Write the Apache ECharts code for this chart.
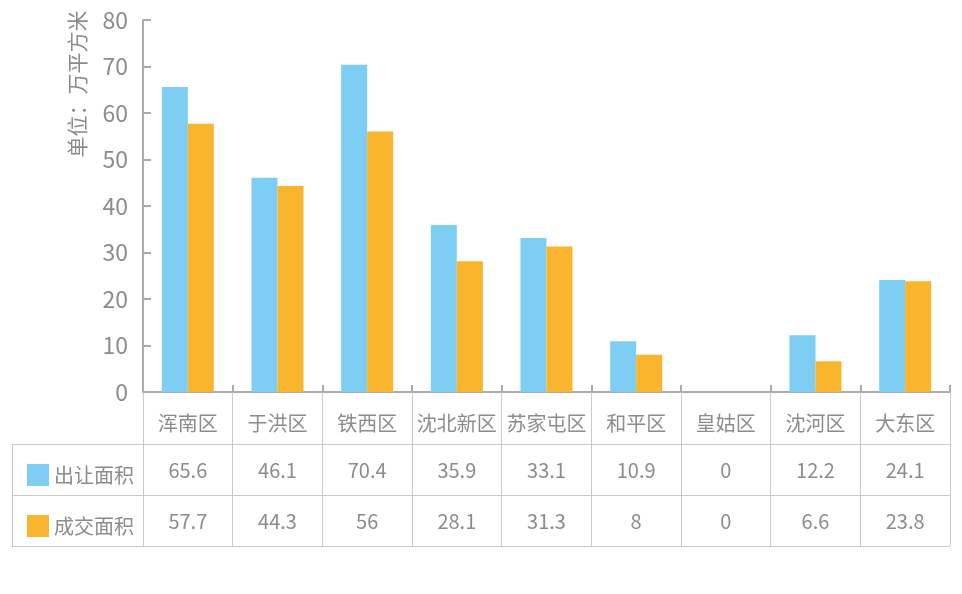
<!DOCTYPE html>
<html><head><meta charset="utf-8">
<script src="https://cdn.jsdelivr.net/npm/echarts@6/dist/echarts.min.js"></script>
<style>html,body{margin:0;padding:0;background:#fff}#c{width:962px;height:594px}</style>
</head><body><div id="c"></div>
<script>
var categories = ['浑南区','于洪区','铁西区','沈北新区','苏家屯区','和平区','皇姑区','沈河区','大东区'];
var seriesNames = ['出让面积','成交面积'];
var supplyArea = [65.6, 46.1, 70.4, 35.9, 33.1, 10.9, 0, 12.2, 24.1];
var dealArea = [57.7, 44.3, 56, 28.1, 31.3, 8, 0, 6.6, 23.8];
var yTicks = [0, 10, 20, 30, 40, 50, 60, 70, 80];
var unitLabel = '单位：万平方米';

var FONT = '"Noto Sans CJK SC", "Noto Sans", sans-serif';
var GRAY = '#8c8c8c';
var LINE = '#c9c9c9';
var chart = echarts.init(document.getElementById('c'));

function labelAxis(data, offset, extra) {
  return Object.assign({
    type: 'category', data: data.map(String), gridIndex: 0, position: 'bottom', offset: offset,
    axisLine: {show: false}, axisTick: {show: false},
    axisLabel: {interval: 0, margin: 21, color: GRAY, fontSize: 20, fontFamily: FONT}
  }, extra || {});
}

chart.setOption({
  animation: false,
  grid: {left: 143, right: 12, top: 20, bottom: 202, containLabel: false},
  legend: {
    orient: 'vertical', left: 22, top: 459, itemWidth: 22, itemHeight: 22, itemGap: 29,
    icon: 'rect', data: seriesNames,
    textStyle: {color: GRAY, fontSize: 20, fontFamily: FONT, padding: [0, 0, 0, 0]}
  },
  xAxis: [
    {
      type: 'category', data: categories, position: 'bottom',
      axisLine: {lineStyle: {color: '#ababab', width: 2}},
      axisTick: {show: true, interval: 0, length: 154, lineStyle: {color: LINE, width: 1}},
      axisLabel: {interval: 0, margin: 21, color: GRAY, fontSize: 20, fontFamily: FONT}
    },
    labelAxis(supplyArea, 47),
    labelAxis(dealArea, 98),
    {
      type: 'category', data: categories, position: 'bottom',
      axisLine: {show: false},
      axisTick: {show: true, inside: true, interval: 0, length: 7, lineStyle: {color: '#ababab', width: 2}},
      axisLabel: {show: false}
    }
  ],
  yAxis: {
    type: 'value', min: 0, max: 80, interval: 10,
    axisLine: {show: true, lineStyle: {color: '#ababab', width: 2}},
    axisTick: {show: true, inside: true, length: 8, lineStyle: {color: '#ababab', width: 2}},
    splitLine: {show: false},
    axisLabel: {margin: 15, color: GRAY, fontSize: 23, fontFamily: FONT,
      formatter: function (v) { return yTicks.indexOf(v) >= 0 ? String(v) : ''; }}
  },
  series: [
    {name: seriesNames[0], type: 'bar', data: supplyArea, barWidth: 26, barGap: '0%',
      itemStyle: {color: '#7ecef4'}},
    {name: seriesNames[1], type: 'bar', data: dealArea, barWidth: 26, barGap: '0%',
      itemStyle: {color: '#f8b52d'}}
  ],
  graphic: [
    {type: 'line', shape: {x1: 12, y1: 444.5, x2: 950, y2: 444.5}, style: {stroke: LINE, lineWidth: 1}},
    {type: 'line', shape: {x1: 12, y1: 495.5, x2: 950, y2: 495.5}, style: {stroke: LINE, lineWidth: 1}},
    {type: 'line', shape: {x1: 12, y1: 546.5, x2: 950, y2: 546.5}, style: {stroke: LINE, lineWidth: 1}},
    {type: 'line', shape: {x1: 12.5, y1: 444, x2: 12.5, y2: 546}, style: {stroke: LINE, lineWidth: 1}},
    {type: 'text', x: 77, y: 84, rotation: Math.PI / 2,
      style: {text: unitLabel, fill: GRAY, font: '21px ' + FONT, textAlign: 'center', textVerticalAlign: 'middle'}}
  ]
});
</script></body></html>
